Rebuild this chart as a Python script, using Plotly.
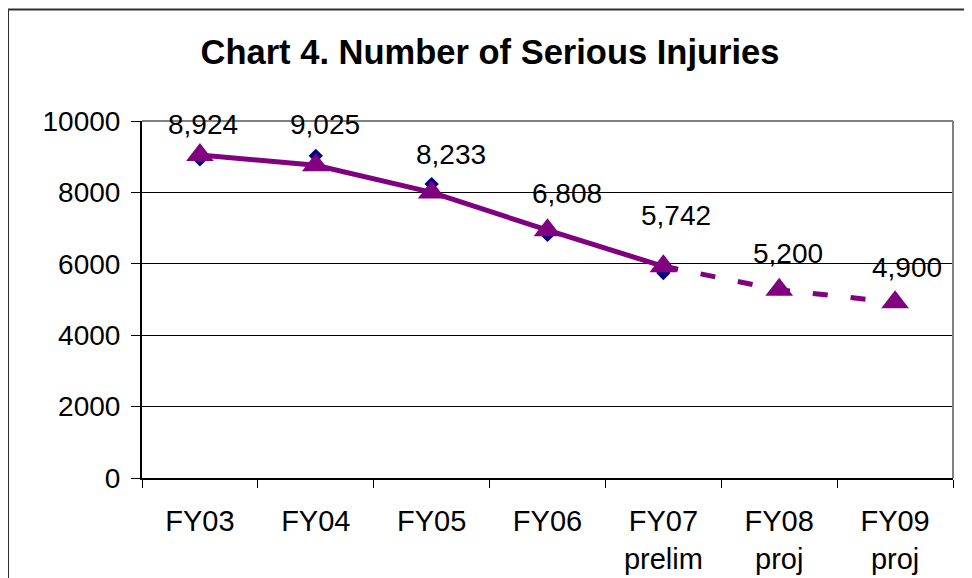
import plotly.graph_objects as go

# ---- data ----
categories = ["FY03", "FY04", "FY05", "FY06", "FY07<br>prelim", "FY08<br>proj", "FY09<br>proj"]
actual_values = [8924, 9025, 8233, 6808, 5742]            # navy diamonds (FY03-FY07)
trend_values = [9050, 8760, 8000, 6940, 5930, 5270, 4920]  # purple triangle line
label_values = [8924, 9025, 8233, 6808, 5742, 5200, 4900]  # data label text
y_ticks = [0, 2000, 4000, 6000, 8000, 10000]

# ---- style ----
FONT = "Liberation Sans, Arial, sans-serif"
PURPLE = "#800080"
NAVY = "#000080"
label_xshift = [3, 9, 19, 19, 13, 9, 12]
label_yshift = [35, 31, 30, 41, 58, 39, 36]

# page body has an 8px margin -> figure placed at (8,8)
W, H = 964, 570

fig = go.Figure()

fig.add_trace(go.Scatter(
    x=categories[:len(actual_values)], y=actual_values, mode="markers",
    marker=dict(symbol="diamond", size=11, color=NAVY),
    showlegend=False, hoverinfo="skip"))

fig.add_trace(go.Scatter(
    x=categories[:5], y=trend_values[:5], mode="lines",
    line=dict(color=PURPLE, width=5),
    showlegend=False, hoverinfo="skip"))

fig.add_trace(go.Scatter(
    x=categories[4:], y=trend_values[4:], mode="lines",
    line=dict(color=PURPLE, width=5, dash="15px,23px"),
    showlegend=False, hoverinfo="skip"))

fig.add_trace(go.Scatter(
    x=categories, y=trend_values, mode="markers",
    marker=dict(symbol="triangle-up", size=24, color=PURPLE),
    showlegend=False, hoverinfo="skip"))

for i, v in enumerate(label_values):
    fig.add_annotation(
        x=categories[i], y=v, text=f"{v:,}", showarrow=False,
        xanchor="center", yanchor="middle",
        xshift=label_xshift[i], yshift=label_yshift[i],
        font=dict(family=FONT, size=28, color="black"))

# plot-area top/right border (gray)
fig.add_shape(type="line", xref="paper", yref="paper", x0=0, x1=1, y0=1, y1=1,
              line=dict(color="#808080", width=2), layer="above")
fig.add_shape(type="line", xref="paper", yref="paper", x0=1, x1=1, y0=0, y1=1,
              line=dict(color="#808080", width=2), layer="above")
# chart-area outer border
fig.add_shape(type="rect", xref="paper", yref="paper",
              x0=-0.1652, x1=1.2, y0=-0.6, y1=1.312,
              line=dict(color="#303030", width=2), layer="below")

fig.update_layout(
    width=W, height=H,
    margin=dict(l=134, r=19, t=113, b=100, autoexpand=False),
    paper_bgcolor="white", plot_bgcolor="white",
    font=dict(family=FONT, size=28, color="black"),
    title=dict(text="<b>Chart 4. Number of Serious Injuries</b>",
               x=0.5, xref="container", xanchor="center",
               y=1 - 43.5 / H, yref="container", yanchor="middle",
               font=dict(family=FONT, size=34.5, color="black")),
)

fig.update_xaxes(
    type="category", categoryorder="array", categoryarray=categories,
    range=[-0.5, 6.5], showgrid=False, zeroline=False, automargin=False,
    showline=True, linecolor="black", linewidth=2,
    ticks="outside", tickson="boundaries", ticklen=8, tickcolor="black", tickwidth=1,
    ticklabelstandoff=16,
    tickfont=dict(family=FONT, size=29, color="black"))

fig.update_yaxes(
    range=[0, 10000], tickvals=y_ticks, ticktext=[str(t) for t in y_ticks],
    showgrid=True, gridcolor="black", gridwidth=1, zeroline=False, automargin=False,
    showline=True, linecolor="black", linewidth=2,
    ticks="outside", ticklen=9, tickcolor="black", tickwidth=1,
    ticklabelstandoff=5,
    tickfont=dict(family=FONT, size=28, color="black"))

fig.write_html("out.html")
